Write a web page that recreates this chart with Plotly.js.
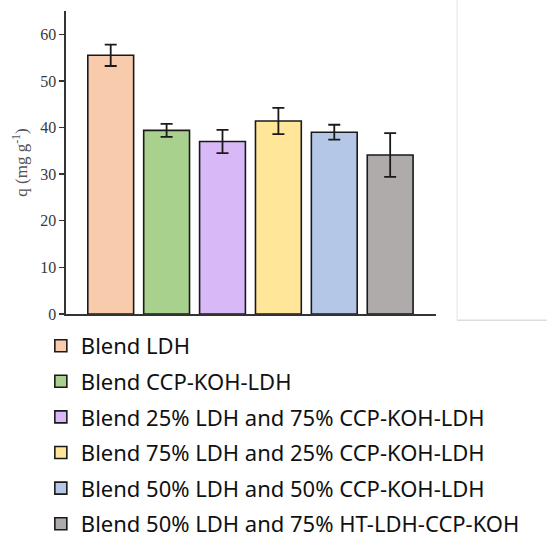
<!DOCTYPE html>
<html>
<head>
<meta charset="utf-8">
<script src="https://cdn.plot.ly/plotly-3.0.1.min.js"></script>
<style>html,body{margin:0;padding:0;background:#fff;}#chart{width:548px;height:533px;}</style>
</head>
<body>
<div id="chart"></div>
<script>
const categories = [
  "Blend LDH",
  "Blend CCP-KOH-LDH",
  "Blend 25% LDH and 75% CCP-KOH-LDH",
  "Blend 75% LDH and 25% CCP-KOH-LDH",
  "Blend 50% LDH and 50% CCP-KOH-LDH",
  "Blend 50% LDH and 75% HT-LDH-CCP-KOH"
];
const qValues = [55.5, 39.4, 37.0, 41.4, 39.0, 34.1];
const qErrors = [2.3, 1.4, 2.5, 2.8, 1.6, 4.7];
const barColors = ["#F8CBAD", "#A9D18E", "#D9B8F8", "#FFE699", "#B4C7E7", "#AFABAB"];
const yTicks = [0, 10, 20, 30, 40, 50, 60];

const traces = categories.map((c, i) => ({
  type: "bar",
  name: c,
  legendgroup: "g" + i,
  x: [c],
  y: [qValues[i]],
  width: 0.82,
  marker: {color: barColors[i], line: {color: "#1a1a1a", width: 1.6}},
  error_y: {type: "data", array: [qErrors[i]], visible: true, color: "#1a1a1a", thickness: 1.8, width: 6}
}));

const layout = {
  width: 548, height: 533,
  margin: {l: 66, r: 112, t: 11, b: 219, pad: 0, autoexpand: false},
  paper_bgcolor: "#fff", plot_bgcolor: "#fff",
  barmode: "overlay",
  showlegend: true,
  legend: {
    x: -0.068, xanchor: "left", y: -0.036, yanchor: "top",
    font: {family: "Noto Sans, Open Sans, sans-serif", size: 22, color: "#111"},
    tracegroupgap: 4, traceorder: "grouped", bgcolor: "rgba(0,0,0,0)"
  },
  xaxis: {
    type: "category", categoryorder: "array", categoryarray: categories,
    range: [-0.8, 5.82], showticklabels: false, ticks: "",
    showline: true, linecolor: "#333", linewidth: 1.6, showgrid: false, zeroline: false, fixedrange: true
  },
  yaxis: {
    range: [0, 65], tickvals: yTicks, ticks: "outside", ticklen: 5, tickwidth: 1.4, tickcolor: "#333",
    showline: true, linecolor: "#333", linewidth: 1.6, showgrid: false, zeroline: false,
    tickfont: {family: "Liberation Serif, Times New Roman, serif", size: 16, color: "#3a3a3a"},
    title: {text: "q (mg g<sup>-1</sup>)", font: {family: "Liberation Serif, Times New Roman, serif", size: 17, color: "#555"}, standoff: 8}
  },
  shapes: [
    {type: "line", xref: "paper", yref: "paper", x0: 1.057, x1: 1.057, y0: 1.04, y1: -0.021, line: {color: "#eeeeee", width: 1.5}},
    {type: "line", xref: "paper", yref: "paper", x0: 1.057, x1: 1.3, y0: -0.021, y1: -0.021, line: {color: "#dddddd", width: 1.5}}
  ]
};

Plotly.newPlot("chart", traces, layout, {displayModeBar: false, staticPlot: true});
</script>
</body>
</html>
